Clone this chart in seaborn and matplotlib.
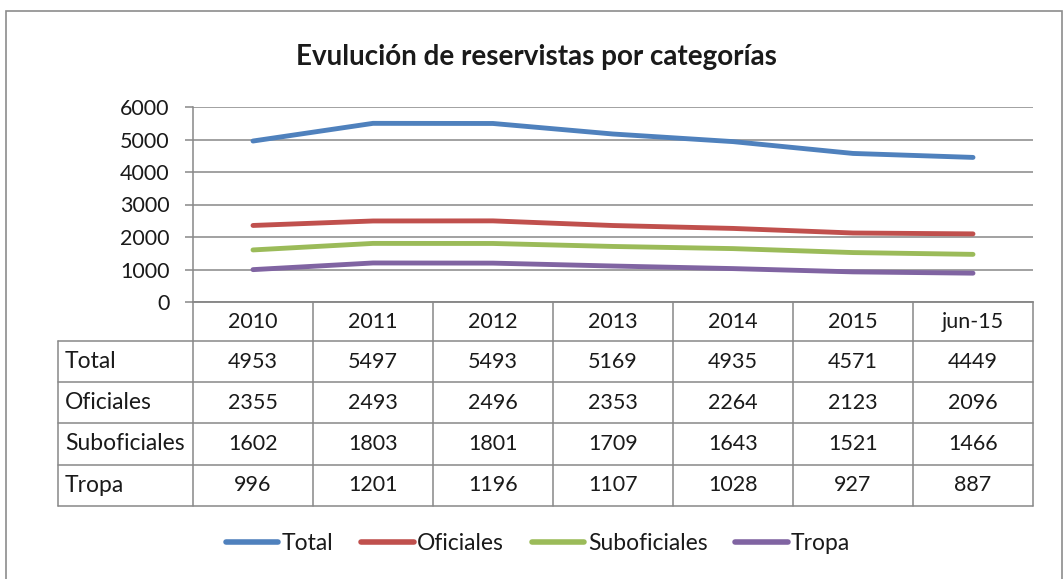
import pandas as pd
import matplotlib
matplotlib.use("Agg")
import matplotlib.pyplot as plt
import matplotlib.transforms as mtransforms
from matplotlib.patches import Rectangle
import seaborn as sns

# datos
periodos = ['2010', '2011', '2012', '2013', '2014', '2015', 'jun-15']
total = [4953, 5497, 5493, 5169, 4935, 4571, 4449]
oficiales = [2355, 2493, 2496, 2353, 2264, 2123, 2096]
suboficiales = [1602, 1803, 1801, 1709, 1643, 1521, 1466]
tropa = [996, 1201, 1196, 1107, 1028, 927, 887]
series = ['Total', 'Oficiales', 'Suboficiales', 'Tropa']
colores = ['#4F81BD', '#C0504D', '#9BBB59', '#8064A2']

valores = {'Total': total, 'Oficiales': oficiales,
           'Suboficiales': suboficiales, 'Tropa': tropa}

df = pd.DataFrame([
    {'periodo': p, 'serie': s, 'valor': v}
    for s in series for p, v in zip(periodos, valores[s])
])

sns.set_style('white')
plt.rcParams['font.family'] = ['Lato', 'DejaVu Sans']
plt.rcParams['text.color'] = '#1a1a1a'
grid_col = '#888888'
fs = 15.5
fs_lbl = 16.5

W, H = 1064, 579
fig = plt.figure(figsize=(W / 100, H / 100), dpi=100)
ax_left, ax_top, ax_right, ax_bottom = 193, 107, 1033, 302
ax = fig.add_axes([ax_left / W, 1 - ax_bottom / H,
                   (ax_right - ax_left) / W, (ax_bottom - ax_top) / H])

sns.lineplot(data=df, x='periodo', y='valor', hue='serie', palette=colores,
             linewidth=3.5, sort=False, ax=ax, solid_capstyle='round')

ax.set_xlim(-0.5, len(periodos) - 0.5)
ax.set_ylim(0, 6000)
ax.set_yticks(range(0, 6001, 1000))
ax.set_xticks([])
ax.set_xlabel('')
ax.set_ylabel('')
ax.yaxis.grid(True, color=grid_col, linewidth=1.1)
ax.tick_params(axis='y', left=True, length=6, width=1.1, color=grid_col,
               pad=11, labelsize=fs, labelcolor='#1a1a1a')
for s in ['top', 'right']:
    ax.spines[s].set_visible(False)
for s in ['left', 'bottom']:
    ax.spines[s].set_color(grid_col)
    ax.spines[s].set_linewidth(1.1)

handles, labels = ax.get_legend_handles_labels()
ax.get_legend().remove()
for h in handles:
    h.set_linewidth(4)

# tabla de datos bajo el eje
trans = mtransforms.blended_transform_factory(ax.transData, ax.transAxes)
ax_h = ax_bottom - ax_top
header_h, row_h = 39, 41.2
px_per_cat = (ax_right - ax_left) / len(periodos)
x_tab_left = -0.5 - (ax_left - 58) / px_per_cat
x_end = len(periodos) - 0.5

y_header = -header_h / ax_h
y_rows = [y_header - (i + 1) * row_h / ax_h for i in range(len(series))]
y_bottom = y_rows[-1]

line_kw = dict(color=grid_col, linewidth=1.1, transform=trans, clip_on=False)
# horizontales
ax.plot([-0.5, x_end], [0, 0], **line_kw)
for y in [y_header] + y_rows:
    ax.plot([x_tab_left, x_end], [y, y], **line_kw)
# verticales
for i in range(len(periodos) + 1):
    ax.plot([i - 0.5, i - 0.5], [0, y_bottom], **line_kw)
ax.plot([x_tab_left, x_tab_left], [y_header, y_bottom], **line_kw)

for i, p in enumerate(periodos):
    ax.text(i, y_header / 2, p, transform=trans, ha='center', va='center',
            fontsize=fs)

prev = y_header
for s, y in zip(series, y_rows):
    yc = (prev + y) / 2
    ax.text(x_tab_left + 7 / px_per_cat, yc, s, transform=trans,
            ha='left', va='center', fontsize=fs_lbl)
    for i, v in enumerate(valores[s]):
        ax.text(i, yc, str(v), transform=trans, ha='center', va='center',
                fontsize=fs)
    prev = y

fig.legend(handles, labels, loc='center', bbox_to_anchor=(538 / W, 1 - 544 / H),
           ncol=4, frameon=False, fontsize=fs_lbl, handlelength=2.3,
           handletextpad=0.15, columnspacing=1.2)

fig.text(536 / W, 1 - 57 / H, 'Evulución de reservistas por categorías',
         ha='center', va='center', fontsize=20, fontweight='bold')

fig.patches.append(Rectangle((6 / W, -0.05), (1062 - 6) / W, 1.05 - 11 / H,
                             transform=fig.transFigure, fill=False,
                             edgecolor='#8c8c8c', linewidth=1.2))

fig.savefig('out.png', dpi=100)
